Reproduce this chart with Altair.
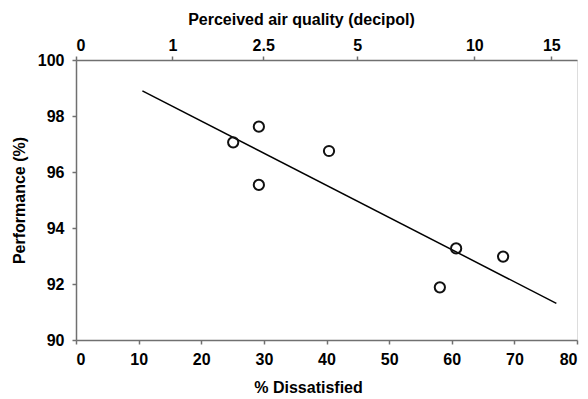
import altair as alt
import pandas as pd

# Data
dissatisfied = [25.1, 29.2, 29.2, 40.4, 58.1, 60.7, 68.2]
performance = [97.06, 97.62, 95.54, 96.75, 91.88, 93.27, 92.98]

fit_x = [10.6, 76.7]
fit_y = [98.9, 91.31]

# top axis: decipol labels and their position on the % dissatisfied scale
decipol_labels = ["0", "1", "2.5", "5", "10", "15"]
decipol_pos = [0, 15.4, 29.9, 44.9, 63.6, 75.9]

pts = pd.DataFrame({"x": dissatisfied, "y": performance})
fit = pd.DataFrame({"x": fit_x, "y": fit_y})
top = pd.DataFrame({"t": decipol_pos, "lab": decipol_labels})

FONT = "Liberation Sans"
GRAY = "#707070"

common_axis = dict(
    grid=False, domainColor=GRAY, domainWidth=1.5, tickColor=GRAY, tickWidth=1.5,
    tickSize=4, labelFont=FONT, labelFontWeight="bold", labelFontSize=16,
    labelColor="black", titleFont=FONT, titleFontWeight="bold", titleFontSize=16,
    titleColor="black",
)

xscale = alt.Scale(domain=[0, 80], nice=False, zero=False)
yscale = alt.Scale(domain=[90, 100], nice=False, zero=False)

x_enc_axis = alt.Axis(title="% Dissatisfied", values=list(range(0, 81, 10)),
                      orient="bottom", labelPadding=7, titlePadding=12, titleX=232,
                      **common_axis)
y_enc_axis = alt.Axis(title="Performance (%)", values=list(range(90, 101, 2)),
                      labelPadding=8, titlePadding=10, **common_axis)

line = alt.Chart(fit).mark_line(color="black", strokeWidth=1.5).encode(
    x=alt.X("x:Q", scale=xscale, axis=x_enc_axis),
    y=alt.Y("y:Q", scale=yscale, axis=y_enc_axis),
)

points = alt.Chart(pts).mark_point(
    shape="circle", filled=False, color="#111111", strokeWidth=2, size=105, opacity=1
).encode(
    x=alt.X("x:Q", scale=xscale, axis=x_enc_axis),
    y=alt.Y("y:Q", scale=yscale, axis=y_enc_axis),
)

base = alt.layer(line, points)

label_expr = " : ".join(
    f"datum.value == {p} ? '{l}'" for p, l in zip(decipol_pos, decipol_labels)
) + " : ''"

top_axis = alt.Chart(top).mark_point(opacity=0).encode(
    x=alt.X("t:Q", scale=alt.Scale(domain=[0, 80], nice=False, zero=False),
            axis=alt.Axis(title="Perceived air quality (decipol)", orient="top",
                          values=decipol_pos, labelExpr=label_expr, titleX=225,
                          labelPadding=3, titlePadding=10, **common_axis)),
)

chart = alt.layer(base, top_axis).resolve_scale(x="independent").properties(
    width=501, height=280,
    autosize=alt.AutoSizeParams(type="none"),
    padding={"left": 76, "top": 60, "right": 11, "bottom": 59},
).configure_view(stroke=GRAY, strokeWidth=1.5).configure(background="white")

chart.save("out.html", embed_options={"renderer": "svg", "actions": False})
